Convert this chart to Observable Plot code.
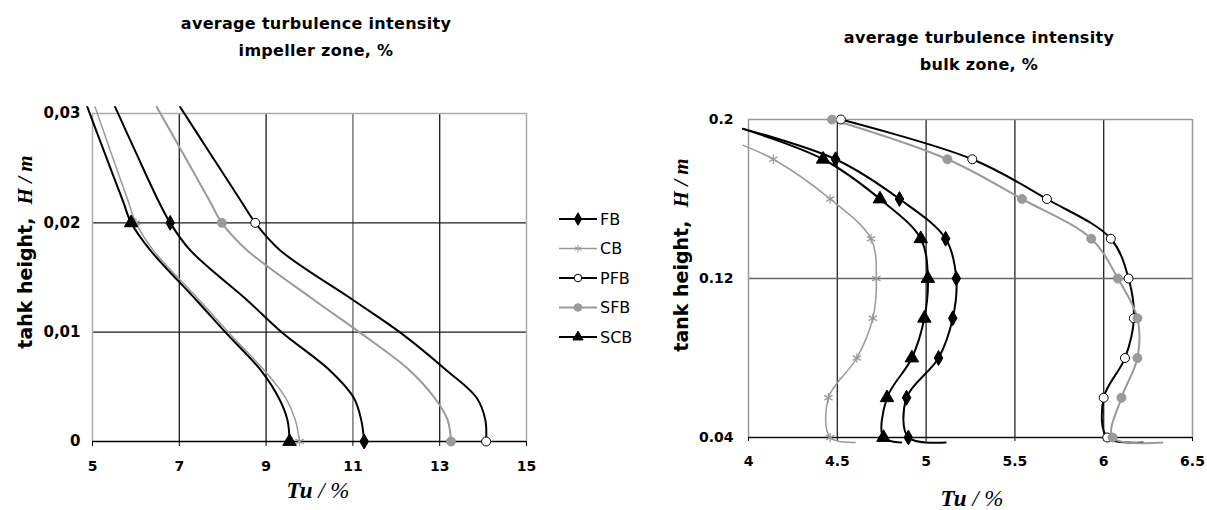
<!DOCTYPE html>
<html><head><meta charset="utf-8">
<script src="https://cdn.jsdelivr.net/npm/d3@7"></script>
<script src="https://cdn.jsdelivr.net/npm/@observablehq/plot@0.6"></script>
<style>
body{margin:0;background:#fff;}
#root{position:relative;width:1207px;height:510px;overflow:hidden;background:#fff;font-family:"DejaVu Sans",sans-serif;color:#000;}
.abs{position:absolute;}
.title{font-weight:bold;font-size:16px;letter-spacing:0.3px;text-align:center;line-height:27px;white-space:nowrap;transform:translateX(-50%);}
.ytitle{white-space:nowrap;transform:translate(-50%,-50%) rotate(-90deg);font-weight:bold;font-size:19px;}
.ytitle .serif{font-size:21px;}
.ytitle .serif,.xtitle{font-family:"Liberation Serif","DejaVu Serif",serif;font-style:italic;}
.xtitle{white-space:nowrap;transform:translateX(-50%);font-size:23px;}
</style></head><body><div id="root"></div>
<script>
// ---------- data ----------
const seriesNames = ["FB", "CB", "PFB", "SFB", "SCB"];

// Impeller zone: heights H (m) along each curve and Tu (%) read at them
const impellerH   = [0.0306, 0.0266, 0.022, 0.02, 0.0175, 0.0129, 0.01, 0.0065, 0.004, 0.002, 0];
const impellerFB  = [5.52, 5.98, 6.52, 6.79, 7.25, 8.57, 9.36, 10.47, 11.02, 11.19, 11.26];
const impellerCB  = [5.06, 5.41, 5.82, 6.00, 6.40, 7.47, 8.13, 8.96, 9.45, 9.67, 9.77];
const impellerPFB = [7.02, 7.67, 8.42, 8.75, 9.32, 11.02, 12.08, 13.16, 13.85, 14.05, 14.07];
const impellerSFB = [6.48, 7.05, 7.70, 7.98, 8.56, 10.12, 11.15, 12.31, 12.88, 13.18, 13.26];
const impellerSCB = [4.88, 5.26, 5.70, 5.89, 6.33, 7.40, 8.06, 8.88, 9.29, 9.49, 9.54];
const impellerMarkedH = [0.02, 0];
const impellerXTicks = [5, 7, 9, 11, 13, 15];
const impellerYTicks = [0, 0.01, 0.02, 0.03];

// Bulk zone
const bulkMarkedH = [0.2, 0.18, 0.16, 0.14, 0.12, 0.1, 0.08, 0.06, 0.04];
const bulkFB_H  = [0.1953, 0.18, 0.16, 0.14, 0.12, 0.1, 0.08, 0.06, 0.04, 0.0375];
const bulkFB    = [3.97, 4.49, 4.85, 5.11, 5.17, 5.15, 5.07, 4.89, 4.90, 5.11];
const bulkCB_H  = [0.187, 0.18, 0.16, 0.14, 0.12, 0.1, 0.08, 0.06, 0.04, 0.0375];
const bulkCB    = [3.97, 4.14, 4.46, 4.69, 4.72, 4.70, 4.61, 4.45, 4.46, 4.60];
const bulkPFB_H = [0.2, 0.18, 0.16, 0.14, 0.12, 0.1, 0.08, 0.06, 0.04, 0.0375];
const bulkPFB   = [4.52, 5.26, 5.68, 6.04, 6.14, 6.17, 6.12, 6.00, 6.02, 6.22];
const bulkSFB_H = [0.2, 0.18, 0.16, 0.14, 0.12, 0.1, 0.08, 0.06, 0.04, 0.0375];
const bulkSFB   = [4.47, 5.12, 5.54, 5.93, 6.08, 6.19, 6.19, 6.10, 6.05, 6.33];
const bulkSCB_H = [0.1953, 0.18, 0.16, 0.14, 0.12, 0.1, 0.08, 0.06, 0.04, 0.0375];
const bulkSCB   = [3.97, 4.42, 4.74, 4.97, 5.01, 4.99, 4.92, 4.78, 4.76, 4.86];
const bulkXTicks = [4, 4.5, 5, 5.5, 6, 6.5];
const bulkYTicks = [0.04, 0.12, 0.2];

// ---------- styles ----------
const styles = {
  FB:  {stroke: "#000", width: 2,   symbol: "diamond",  fill: "#000", dotStroke: "#000"},
  CB:  {stroke: "#999", width: 1.5, symbol: "asterisk", fill: "none", dotStroke: "#999"},
  PFB: {stroke: "#000", width: 2,   symbol: "circle",   fill: "#fff", dotStroke: "#000"},
  SFB: {stroke: "#9a9a9a", width: 2, symbol: "circle",  fill: "#9a9a9a", dotStroke: "#9a9a9a"},
  SCB: {stroke: "#000", width: 2,   symbol: "triangle", fill: "#000", dotStroke: "#000"}
};

const impellerTable = {
  FB:  impellerH.map((h, i) => ({H: h, Tu: impellerFB[i]})),
  CB:  impellerH.map((h, i) => ({H: h, Tu: impellerCB[i]})),
  PFB: impellerH.map((h, i) => ({H: h, Tu: impellerPFB[i]})),
  SFB: impellerH.map((h, i) => ({H: h, Tu: impellerSFB[i]})),
  SCB: impellerH.map((h, i) => ({H: h, Tu: impellerSCB[i]}))
};
const bulkTable = {
  FB:  bulkFB_H.map((h, i) => ({H: h, Tu: bulkFB[i]})),
  CB:  bulkCB_H.map((h, i) => ({H: h, Tu: bulkCB[i]})),
  PFB: bulkPFB_H.map((h, i) => ({H: h, Tu: bulkPFB[i]})),
  SFB: bulkSFB_H.map((h, i) => ({H: h, Tu: bulkSFB[i]})),
  SCB: bulkSCB_H.map((h, i) => ({H: h, Tu: bulkSCB[i]}))
};
const isIn = (arr) => (d) => arr.some(v => Math.abs(v - d.H) < 1e-7);

function seriesMarks(table, marked) {
  const marks = [];
  for (const s of seriesNames) {
    const st = styles[s];
    marks.push(Plot.line(table[s], {x: "Tu", y: "H", curve: "catmull-rom", stroke: st.stroke, strokeWidth: st.width}));
  }
  for (const s of seriesNames) {
    const st = styles[s];
    marks.push(Plot.dot(table[s].filter(isIn(marked)), {x: "Tu", y: "H", symbol: st.symbol,
      r: st.symbol === "triangle" ? 5 : 4.5,
      fill: st.fill, stroke: st.dotStroke, strokeWidth: st.symbol === "asterisk" ? 1.2 : 1}));
  }
  return marks;
}

const root = document.getElementById("root");
const baseStyle = {fontFamily: "DejaVu Sans, sans-serif", fontSize: "14px", fontWeight: "bold", background: "transparent", overflow: "visible", color: "#000"};
const tickFont = {fontSize: 14, fontWeight: "bold"};

// ---------- left chart ----------
const left = Plot.plot({
  width: 560, height: 510,
  marginLeft: 92, marginRight: 34, marginTop: 113, marginBottom: 69,
  x: {domain: [5, 15]},
  y: {domain: [0, 0.03]},
  style: baseStyle,
  marks: [
    Plot.ruleX([7, 9, 13], {stroke: "#1a1a1a", strokeWidth: 1.3}),
    Plot.ruleX([11], {stroke: "#777", strokeWidth: 1.5}),
    Plot.ruleY([0.01, 0.02], {stroke: "#1a1a1a", strokeWidth: 1.3}),
    Plot.ruleX([5, 15], {stroke: "#aaa", strokeWidth: 1.5}),
    Plot.ruleY([0.03], {stroke: "#aaa", strokeWidth: 1.5}),
    Plot.ruleY([0], {stroke: "#000", strokeWidth: 1.5}),
    Plot.axisX({ticks: impellerXTicks, tickSize: 5, tickPadding: 15, label: null, tickFormat: d => String(d), ...tickFont}),
    Plot.axisY({ticks: impellerYTicks, tickSize: 0, tickPadding: 12, label: null, fontSize: 15, fontWeight: "bold",
      tickFormat: d => d === 0 ? "0" : d.toFixed(2).replace(".", ",")}),
    ...seriesMarks(impellerTable, impellerMarkedH)
  ]
});
left.style.position = "absolute"; left.style.left = "0px"; left.style.top = "0px";
root.appendChild(left);

// ---------- right chart ----------
const right = Plot.plot({
  width: 607, height: 510,
  marginLeft: 148, marginRight: 15, marginTop: 119, marginBottom: 73,
  x: {domain: [4, 6.5]},
  y: {domain: [0.04, 0.2]},
  style: baseStyle,
  marks: [
    Plot.ruleX([4.5, 5, 5.5, 6], {stroke: "#222", strokeWidth: 1.3}),
    Plot.ruleY([0.12], {stroke: "#666", strokeWidth: 1.6}),
    Plot.ruleX([4, 6.5], {stroke: "#999", strokeWidth: 1.5}),
    Plot.ruleY([0.2], {stroke: "#999", strokeWidth: 1.5}),
    Plot.ruleY([0.04], {stroke: "#111", strokeWidth: 1.5}),
    Plot.axisX({ticks: bulkXTicks, tickSize: 4, tickPadding: 15, label: null, tickFormat: d => String(d), ...tickFont}),
    Plot.axisY({ticks: bulkYTicks, tickSize: 0, tickPadding: 15, label: null, tickFormat: d => String(d), ...tickFont}),
    ...seriesMarks(bulkTable, bulkMarkedH)
  ]
});
right.style.position = "absolute"; right.style.left = "600px"; right.style.top = "0px";
root.appendChild(right);

// ---------- legend ----------
const legendY = [219, 248.5, 278, 307.5, 337];
const lg = d3.select(root).append("svg").attr("class", "abs")
  .style("left", "550px").style("top", "200px").attr("width", 110).attr("height", 160)
  .style("overflow", "visible");
const symMap = {diamond: d3.symbolDiamond, asterisk: d3.symbolAsterisk, circle: d3.symbolCircle, triangle: d3.symbolTriangle};
seriesNames.forEach((s, i) => {
  const st = styles[s];
  const y = legendY[i] - 200;
  const g = lg.append("g");
  g.append("line").attr("x1", 9).attr("x2", 47).attr("y1", y).attr("y2", y)
    .attr("stroke", st.stroke).attr("stroke-width", st.width);
  g.append("path").attr("d", d3.symbol(symMap[st.symbol], st.symbol === "asterisk" ? 40 : 45)())
    .attr("transform", `translate(28,${y})`)
    .attr("fill", st.fill).attr("stroke", st.dotStroke).attr("stroke-width", 1);
  g.append("text").attr("x", 50).attr("y", y).attr("dy", "0.36em")
    .attr("font-family", "DejaVu Sans, sans-serif").attr("font-size", 16).text(s);
});

// ---------- titles ----------
function addDiv(cls, html, x, y) {
  const d = document.createElement("div");
  d.className = "abs " + cls;
  d.innerHTML = html;
  d.style.left = x + "px"; d.style.top = y + "px";
  root.appendChild(d);
  return d;
}
addDiv("title", "average turbulence intensity<br>impeller zone, %", 316, 10);
addDiv("title", "average turbulence intensity<br>bulk zone, %", 979, 24);
addDiv("ytitle", 'tahk height,&nbsp;&nbsp;<span class="serif"><b>H</b> / m</span>', 25, 252);
addDiv("ytitle", 'tank height,&nbsp;&nbsp;<span class="serif"><b>H</b> / m</span>', 681, 255);
addDiv("xtitle", '<b>Tu</b> / %', 318, 478);
addDiv("xtitle", '<b>Tu</b> / %', 972, 486);
</script></body></html>
